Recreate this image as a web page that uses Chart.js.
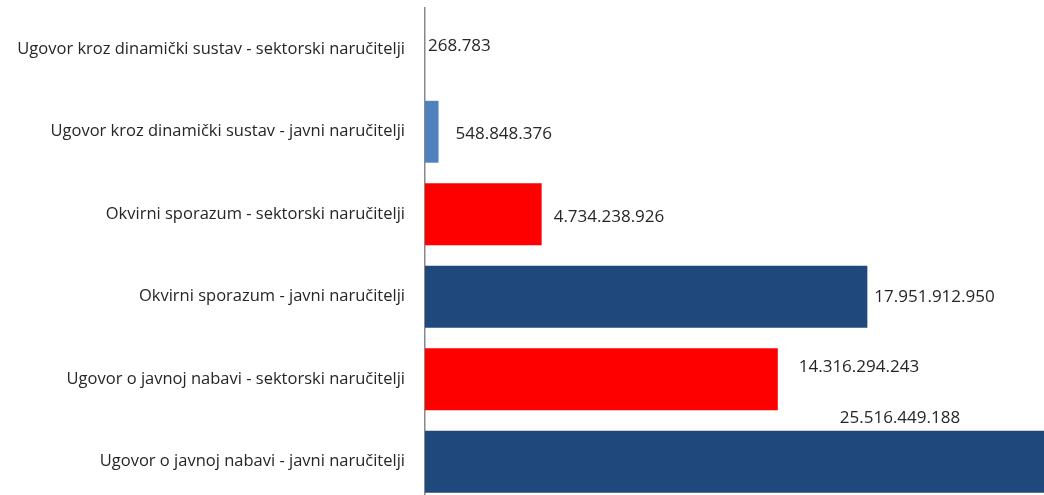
<!DOCTYPE html>
<html>
<head>
<meta charset="utf-8">
<script src="https://cdn.jsdelivr.net/npm/chart.js@4"></script>
<style>
  html, body { margin: 0; padding: 0; background: #fff; overflow: hidden; }
  /* canvas runs 8px past the window so the last band is cut like the original */
  #wrap { width: 1044px; height: 503px; }
</style>
</head>
<body>
<div id="wrap"><canvas id="chart"></canvas></div>
<script>
const categories = [
  'Ugovor kroz dinamički sustav - sektorski naručitelji',
  'Ugovor kroz dinamički sustav - javni naručitelji',
  'Okvirni sporazum - sektorski naručitelji',
  'Okvirni sporazum - javni naručitelji',
  'Ugovor o javnoj nabavi - sektorski naručitelji',
  'Ugovor o javnoj nabavi - javni naručitelji'
];
const values = [268783, 548848376, 4734238926, 17951912950, 14316294243, 25516449188];
const valueLabels = ['268.783', '548.848.376', '4.734.238.926', '17.951.912.950', '14.316.294.243', '25.516.449.188'];
const barColors = ['#4F81BD', '#4F81BD', '#FF0000', '#1F497D', '#FF0000', '#1F497D'];

const FONT = '"Open Sans", sans-serif';

// label nudges [dx from bar end, dy from bar centre]; last one sits above the clipped bar
const labelPlace = [[3, -3], [17, 2], [12, 3], [7, 0], [21, -12], [null, -44]];

const valueLabelPlugin = {
  id: 'valueLabels',
  afterDatasetsDraw(chart) {
    const ctx = chart.ctx;
    const meta = chart.getDatasetMeta(0);
    ctx.save();
    ctx.font = '17px ' + FONT;
    ctx.fillStyle = '#262626';
    ctx.textBaseline = 'middle';
    meta.data.forEach((bar, i) => {
      const p = labelPlace[i];
      if (p[0] === null) {
        ctx.textAlign = 'center';
        ctx.fillText(valueLabels[i], 900, bar.y + p[1]);
      } else {
        ctx.textAlign = 'left';
        ctx.fillText(valueLabels[i], bar.x + p[0], bar.y + p[1]);
      }
    });
    ctx.restore();
  }
};

new Chart(document.getElementById('chart'), {
  type: 'bar',
  data: {
    labels: categories,
    datasets: [{
      data: values,
      backgroundColor: barColors,
      categoryPercentage: 0.75,
      barPercentage: 1
    }]
  },
  options: {
    indexAxis: 'y',
    responsive: true,
    maintainAspectRatio: false,
    animation: false,
    layout: { padding: { top: 8, bottom: 0, right: 0, left: 0 } },
    plugins: {
      legend: { display: false },
      tooltip: { enabled: false }
    },
    scales: {
      x: {
        display: false,
        min: 0,
        max: 25.12e9
      },
      y: {
        afterFit(scale) {
          scale.width = 425;
          scale.paddingTop = 0;
          scale.paddingBottom = 0;
        },
        grid: { display: false, drawTicks: false },
        border: { display: true, color: '#888', width: 1.5 },
        ticks: {
          color: '#262626',
          padding: 20,
          font: { family: FONT, size: 16.5 }
        }
      }
    }
  },
  plugins: [valueLabelPlugin]
});
</script>
</body>
</html>
